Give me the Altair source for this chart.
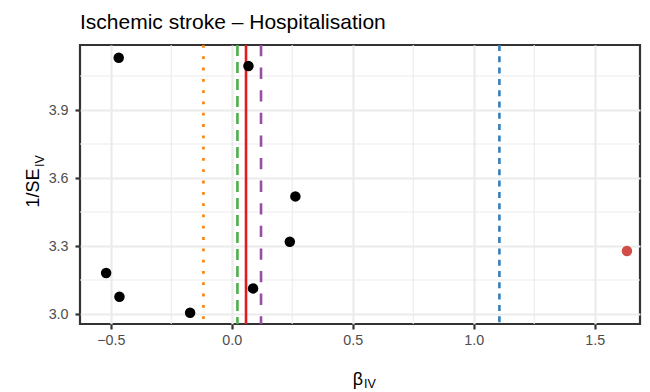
import altair as alt
import pandas as pd

# ---- data ----
beta = [-0.467, 0.069, 0.263, 0.240, -0.519, -0.464, -0.172, 0.088]
inv_se = [4.131, 4.094, 3.519, 3.319, 3.181, 3.076, 3.006, 3.113]
outlier_beta = [1.633]
outlier_inv_se = [3.278]

vline_x = [-0.117, 0.0235, 0.059, 0.121, 1.106]
vline_colors = ["#FF7F00", "#4DAF4A", "#E41A1C", "#984EA3", "#377EB8"]
vline_dash = [[2.8, 8.5], [11, 6], None, [11.3, 11.3], [6, 5.3]]

x_ticks = [-0.5, 0.0, 0.5, 1.0, 1.5]
y_ticks = [3.0, 3.3, 3.6, 3.9]
x_minor = [-0.25, 0.25, 0.75, 1.25]
y_minor = [3.15, 3.45, 3.75, 4.05]
x_domain = [-0.627, 1.687]
y_domain = [2.956, 4.187]

title_text = "Ischemic stroke \u2013 Hospitalisation"

FONT = "Liberation Sans"
W, H = 560, 279

xs = alt.Scale(domain=x_domain, nice=False, zero=False)
ys = alt.Scale(domain=y_domain, nice=False, zero=False)

x_axis = alt.Axis(values=x_ticks, format=".1f", title=None, labelFontSize=14.3,
                  labelColor="#4D4D4D", labelFont=FONT, tickColor="#333333",
                  tickWidth=2.2, tickSize=5, labelPadding=4, domain=False,
                  grid=True, gridColor="#EBEBEB", gridWidth=2.2, labelFlush=False)
y_axis = alt.Axis(values=y_ticks, format=".1f", title=None, labelFontSize=14.3,
                  labelColor="#4D4D4D", labelFont=FONT, tickColor="#333333",
                  tickWidth=2.2, tickSize=5, labelPadding=7, domain=False,
                  grid=True, gridColor="#EBEBEB", gridWidth=2.2, labelFlush=False)

minor_x = alt.Chart(pd.DataFrame({"x": x_minor})).mark_rule(
    color="#EBEBEB", strokeWidth=1.1).encode(x=alt.X("x:Q", scale=xs, axis=x_axis))
minor_y = alt.Chart(pd.DataFrame({"y": y_minor})).mark_rule(
    color="#EBEBEB", strokeWidth=1.1).encode(y=alt.Y("y:Q", scale=ys, axis=y_axis))

vlines = []
for vx, col, dash in zip(vline_x, vline_colors, vline_dash):
    kw = dict(color=col, strokeWidth=2.6)
    if dash is not None:
        kw["strokeDash"] = dash
    vlines.append(alt.Chart(pd.DataFrame({"x": [vx]})).mark_rule(**kw).encode(
        x=alt.X("x:Q", scale=xs, axis=x_axis)))

pts = alt.Chart(pd.DataFrame({"beta": beta, "inv_se": inv_se})).mark_circle(
    size=110, color="black", opacity=1).encode(
    x=alt.X("beta:Q", scale=xs, axis=x_axis),
    y=alt.Y("inv_se:Q", scale=ys, axis=y_axis))

out_pt = alt.Chart(pd.DataFrame({"beta": outlier_beta, "inv_se": outlier_inv_se})).mark_circle(
    size=110, color="#D14E46", opacity=1).encode(
    x=alt.X("beta:Q", scale=xs, axis=x_axis),
    y=alt.Y("inv_se:Q", scale=ys, axis=y_axis))

# axis titles with subscripts
xt_main = alt.Chart(pd.DataFrame({"t": ["\u03b2"]})).mark_text(
    font=FONT, fontSize=17.9, color="black", align="center", baseline="alphabetic").encode(
    text="t:N", x=alt.value(278), y=alt.value(340))
xt_sub = alt.Chart(pd.DataFrame({"t": ["IV"]})).mark_text(
    font=FONT, fontSize=12.5, color="black", align="left", baseline="alphabetic").encode(
    text="t:N", x=alt.value(284), y=alt.value(343))
yt_main = alt.Chart(pd.DataFrame({"t": ["1/SE"]})).mark_text(
    font=FONT, fontSize=17.9, color="black", align="center", baseline="middle", angle=270).encode(
    text="t:N", x=alt.value(-46), y=alt.value(143))
yt_sub = alt.Chart(pd.DataFrame({"t": ["IV"]})).mark_text(
    font=FONT, fontSize=12.5, color="black", align="center", baseline="middle", angle=270).encode(
    text="t:N", x=alt.value(-40), y=alt.value(116))

chart = alt.layer(minor_x, minor_y, *vlines, pts, out_pt, xt_main, xt_sub, yt_main, yt_sub).properties(
    width=W, height=H,
    title=alt.TitleParams(title_text, anchor="start", frame="group", font=FONT, fontSize=21,
                          fontWeight="normal", color="black", offset=11),
    autosize=alt.AutoSizeParams(type="none"),
    padding={"left": 72, "top": 37, "right": 2, "bottom": 68},
).configure(background="white").configure_view(stroke="#333333", strokeWidth=2.2)

chart.save("out.html", embed_options={"renderer": "svg", "actions": False})
